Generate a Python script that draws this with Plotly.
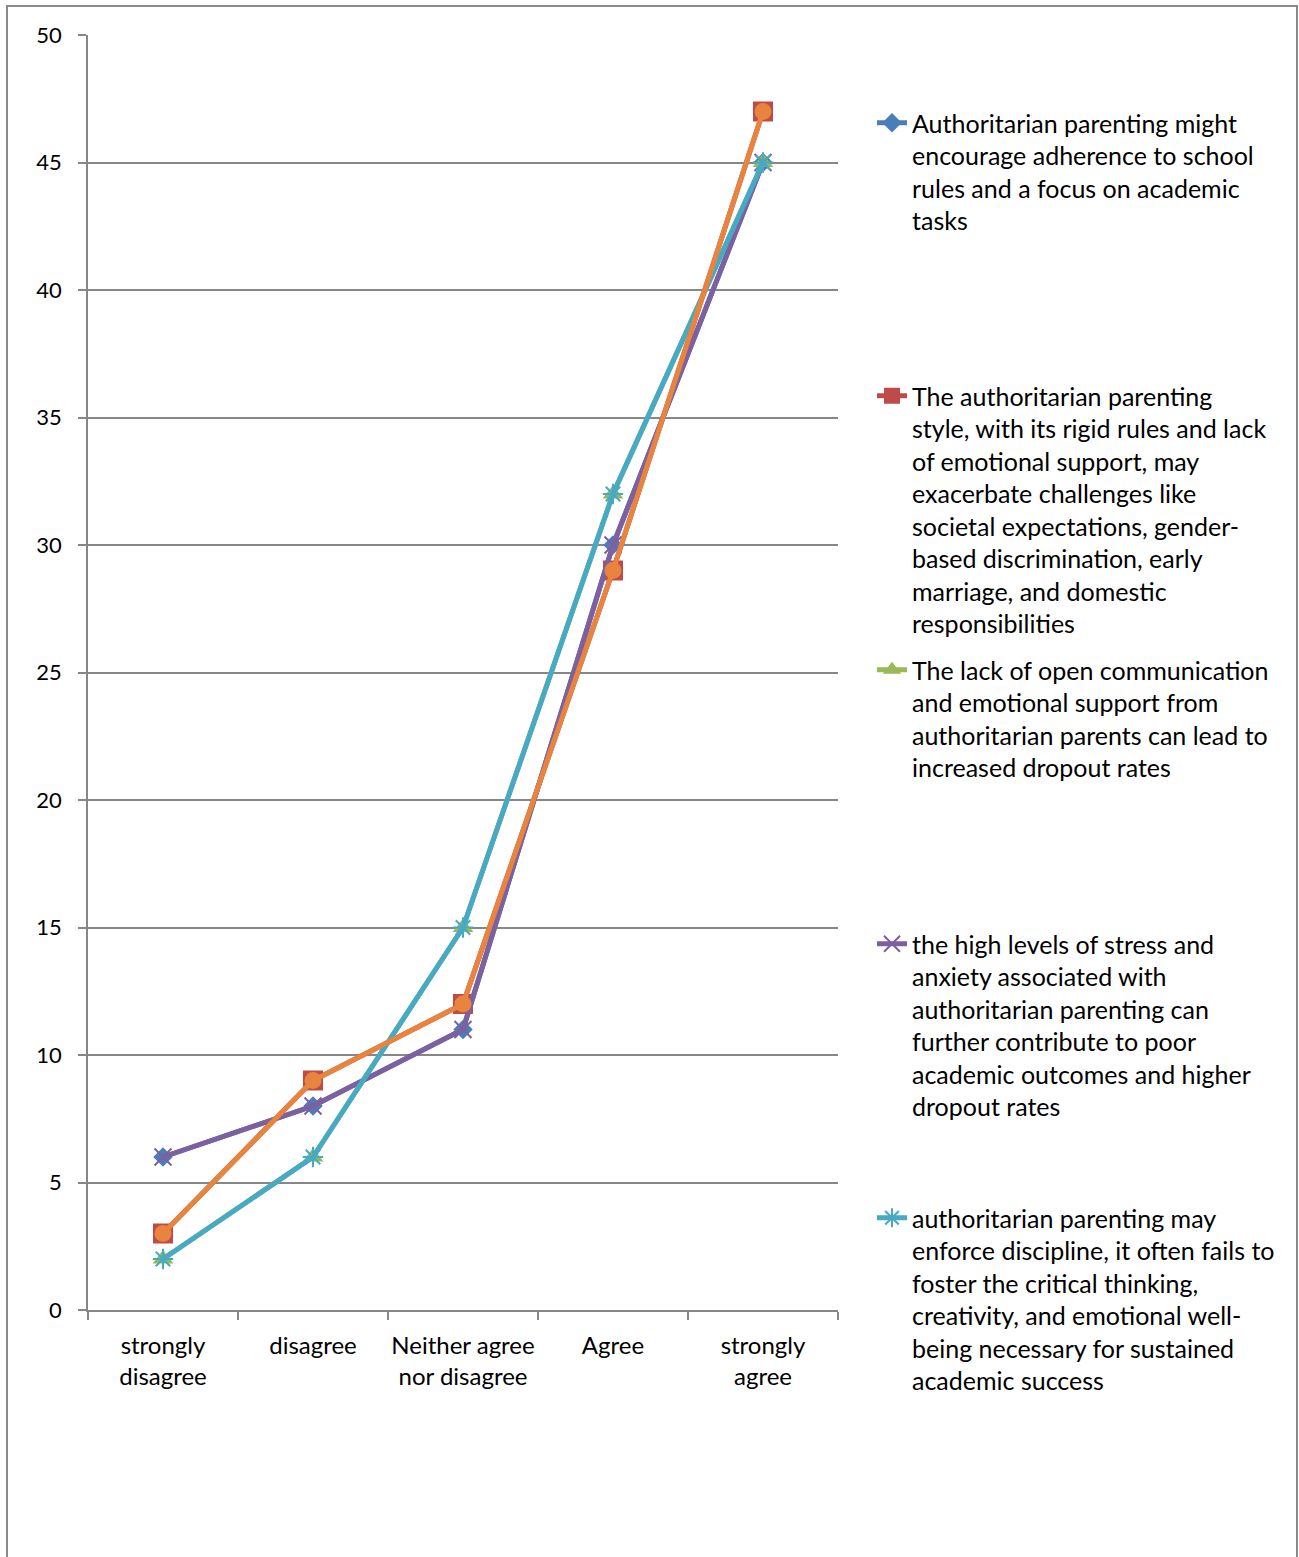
import plotly.graph_objects as go

categories = ["strongly<br>disagree", "disagree", "Neither agree<br>nor disagree", "Agree", "strongly<br>agree"]

names = [
    "Authoritarian parenting might<br>encourage adherence to school<br>rules and a focus on academic<br>tasks",
    "The authoritarian parenting<br>style, with its rigid rules and lack<br>of emotional support, may<br>exacerbate challenges like<br>societal expectations, gender-<br>based discrimination, early<br>marriage, and domestic<br>responsibilities",
    "The lack of open communication<br>and emotional support from<br>authoritarian parents can lead to<br>increased dropout rates",
    "the high levels of stress and<br>anxiety associated with<br>authoritarian parenting can<br>further contribute to poor<br>academic outcomes and higher<br>dropout rates",
    "authoritarian parenting may<br>enforce discipline, it often fails to<br>foster the critical thinking,<br>creativity, and emotional well-<br>being necessary for sustained<br>academic success",
]

s1 = [6, 8, 11, 30, 45]
s2 = [3, 9, 12, 29, 47]
s3 = [2, 6, 15, 32, 45]
s4 = [6, 8, 11, 30, 45]
s5 = [2, 6, 15, 32, 45]
s6 = [3, 9, 12, 29, 47]

FONT = "Lato"
W, H = 1299, 1557
ML, MR, MT, MB = 88, 461, 35, 247
PW, PH = W - ML - MR, H - MT - MB

def py(pix):
    # pixel row -> paper y
    return (H - MB - pix) / PH

def px(pix):
    return (pix - ML) / PW

styles = [
    dict(color="#4A7EBB", symbol="diamond", size=15),
    dict(color="#BE4B48", symbol="square", size=20),
    dict(color="#98B954", symbol="triangle-up", size=18),
    dict(color="#7D60A0", symbol="x-thin", size=17),
    dict(color="#46AAC5", symbol="asterisk", size=17),
]

fig = go.Figure()
series = [s1, s2, s3, s4, s5]
legend_tops = [100, 373, 647, 921, 1195]
for i, (vals, st) in enumerate(zip(series, styles)):
    mk = dict(symbol=st["symbol"], size=st["size"], color=st["color"])
    if st["symbol"] in ("x-thin", "asterisk"):
        mk["line"] = dict(color=st["color"], width=2)
    else:
        mk["line"] = dict(width=0)
    fig.add_trace(go.Scatter(
        x=categories, y=vals, name=names[i], mode="lines+markers",
        line=dict(color=st["color"], width=5), marker=mk,
        legend="legend" if i == 0 else f"legend{i+1}",
    ))

fig.add_trace(go.Scatter(
    x=categories, y=s6, name="Series 6", mode="lines+markers",
    line=dict(color="#E8843D", width=5),
    marker=dict(symbol="circle", size=17, color="#E8843D", line=dict(width=0)),
    showlegend=False,
))

legend_common = dict(
    x=px(872), xanchor="left", yanchor="top", valign="top",
    font=dict(family=FONT, size=25, color="#000000"),
    bgcolor="rgba(0,0,0,0)", borderwidth=0, itemwidth=30,
)
layout_legends = {}
for i, top in enumerate(legend_tops):
    key = "legend" if i == 0 else f"legend{i+1}"
    layout_legends[key] = dict(legend_common, y=py(top))

fig.update_layout(
    width=W, height=H,
    margin=dict(l=ML, r=MR, t=MT, b=MB),
    paper_bgcolor="white", plot_bgcolor="white",
    font=dict(family=FONT, size=22, color="#000000"),
    showlegend=True,
    xaxis=dict(
        type="category", range=[-0.5, 4.5], tickson="boundaries",
        ticks="outside", ticklen=8, tickwidth=1.5, tickcolor="#878787",
        showline=True, linecolor="#878787", linewidth=1.5,
        showgrid=False, zeroline=False, ticklabelstandoff=13,
        tickangle=0, tickfont=dict(family=FONT, size=24),
    ),
    yaxis=dict(
        range=[0, 50], dtick=5, tick0=0,
        ticks="outside", ticklen=8, tickwidth=1.5, tickcolor="#878787",
        showline=True, linecolor="#878787", linewidth=1.5,
        showgrid=True, gridcolor="#878787", gridwidth=1.5,
        zeroline=False, ticklabelstandoff=12,
        tickfont=dict(family=FONT, size=22),
    ),
    shapes=[dict(
        type="rect", xref="paper", yref="paper",
        x0=px(7), x1=px(1297), y0=py(1620), y1=py(6),
        line=dict(color="#8A8A8A", width=2), fillcolor="rgba(0,0,0,0)",
        layer="below",
    )],
    **layout_legends,
)

fig.write_html("out.html")
